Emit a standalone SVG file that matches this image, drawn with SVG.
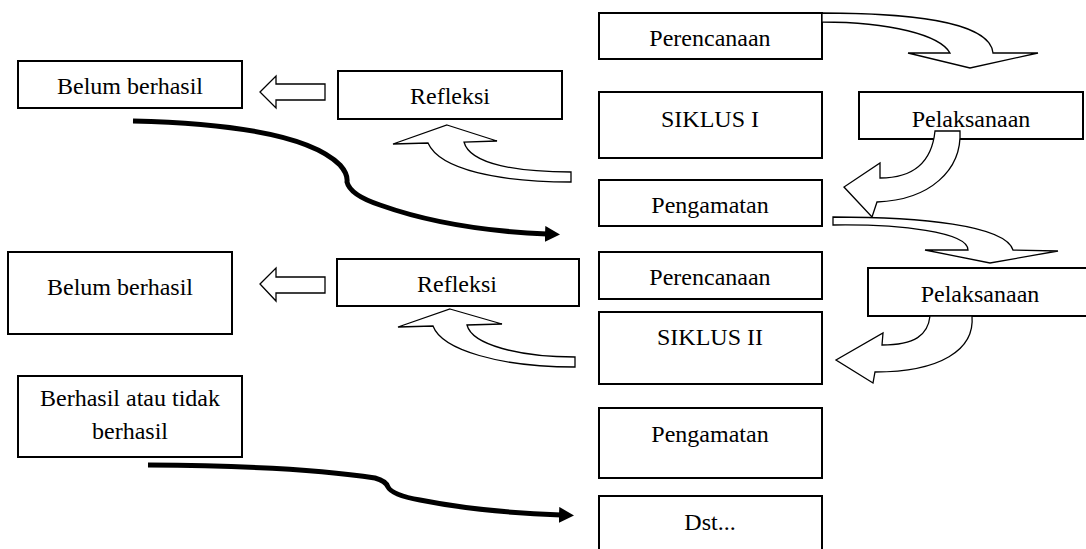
<svg xmlns="http://www.w3.org/2000/svg" width="1086" height="549" viewBox="0 0 1086 549">
<style>
.box{fill:#fff;stroke:#000;stroke-width:2}
.t{font-family:"Liberation Serif","Times New Roman",serif;font-size:24px;fill:#000;text-anchor:middle}
.blk{fill:#fff;stroke:#000;stroke-width:1.3;stroke-linejoin:miter}
.thick{fill:none;stroke:#000;stroke-width:5;stroke-linecap:butt}
</style>
<defs>
<marker id="ah" markerUnits="userSpaceOnUse" markerWidth="16" markerHeight="16" refX="2" refY="8" orient="auto" viewBox="0 0 16 16">
<path d="M0,0 L15,8 L0,16 Z" fill="#000"/>
</marker>
</defs>
<rect width="1086" height="549" fill="#fff"/>
<g id="perencanaan1"><rect class="box" x="599" y="13" width="223" height="46"/><text class="t" x="710" y="46">Perencanaan</text></g>
<g id="siklus1"><rect class="box" x="599" y="92" width="223" height="66"/><text class="t" x="710" y="127">SIKLUS I</text></g>
<g id="pengamatan1"><rect class="box" x="599" y="180" width="223" height="46"/><text class="t" x="710" y="213">Pengamatan</text></g>
<g id="perencanaan2"><rect class="box" x="599" y="252" width="223" height="47"/><text class="t" x="710" y="285">Perencanaan</text></g>
<g id="siklus2"><rect class="box" x="599" y="312" width="223" height="72"/><text class="t" x="710" y="345">SIKLUS II</text></g>
<g id="pengamatan2"><rect class="box" x="599" y="408" width="223" height="70"/><text class="t" x="710" y="442">Pengamatan</text></g>
<g id="dst"><rect class="box" x="599" y="496" width="223" height="60"/><text class="t" x="710" y="530">Dst...</text></g>
<g id="pelaksanaan1"><rect class="box" x="859" y="92" width="224" height="47"/><text class="t" x="971" y="127">Pelaksanaan</text></g>
<g id="pelaksanaan2"><rect class="box" x="868" y="268" width="224" height="48"/><text class="t" x="980" y="302">Pelaksanaan</text></g>
<g id="refleksi1"><rect class="box" x="338" y="71" width="224" height="48"/><text class="t" x="450" y="104">Refleksi</text></g>
<g id="refleksi2"><rect class="box" x="337" y="259" width="242" height="47"/><text class="t" x="457" y="292">Refleksi</text></g>
<g id="belum1"><rect class="box" x="18" y="61" width="224" height="47"/><text class="t" x="130" y="94">Belum berhasil</text></g>
<g id="belum2"><rect class="box" x="8" y="252" width="224" height="82"/><text class="t" x="120" y="295">Belum berhasil</text></g>
<g id="berhasil"><rect class="box" x="18" y="376" width="224" height="81"/><text class="t" x="130" y="406">Berhasil atau tidak</text><text class="t" x="130" y="439">berhasil</text></g>
<g id="connectors">
<path class="blk" d="M822,13 C900,13 990,20 993,53 L1038,53 L970,68 L908,53 L950,53 C940,35 890,22 822,22 Z"/>
<path class="blk" d="M935,131 L960,131 C962,170 930,200 877,202 L872,217 L844,187 L880,163 L880,178 C915,178 932,160 935,131 Z"/>
<path class="blk" d="M833,217 C920,217 1005,225 1013,250 L1058,251 L990,263 L925,250 L968,250 C968,232 900,224 833,225 Z"/>
<path class="blk" d="M930,316 L972,316 C975,350 940,372 875,372 L873,383 L836,360 L883,333 L882,345 C915,345 928,335 930,316 Z"/>
<path class="blk" d="M447,125 L497,141 L464,142 C470,165 520,172 571,172 L571,182 C500,182 440,170 428,143 L393,144 Z"/>
<path class="blk" d="M450,309 L502,324 L467,325 C472,345 520,357 575,357 L575,367 C500,367 442,350 433,326 L398,327 Z"/>
<path class="blk" d="M260,92 L276,76 L276,84 L325,84 L325,100 L276,100 L276,108 Z"/>
<path class="blk" d="M260,284 L276,268 L276,277 L325,277 L325,293 L276,293 L276,301 Z"/>
<path class="thick" marker-end="url(#ah)" d="M133,121 Q300,125 340,165 Q348,174 347,182 Q350,195 380,205 Q450,230 547,234"/>
<path class="thick" marker-end="url(#ah)" d="M148,465 Q300,466 375,478 Q386,481 388,487 Q392,495 420,500 Q480,512 561,515"/>
</g>
</svg>
